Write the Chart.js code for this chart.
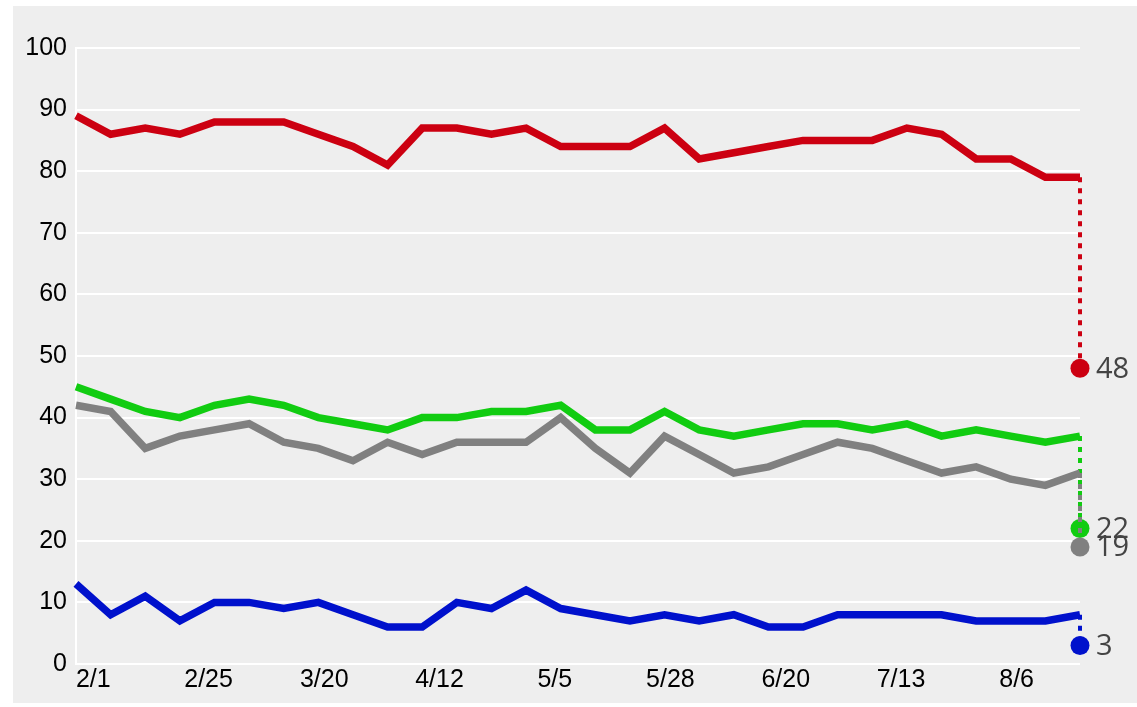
<!DOCTYPE html>
<html>
<head>
<meta charset="utf-8">
<script src="https://cdn.jsdelivr.net/npm/chart.js@4"></script>
<style>
  html, body { margin: 0; padding: 0; background: #fff; }
  #wrap { position: absolute; left: 13px; top: 6px; width: 1124px; height: 697px; background: #eeeeee; }
</style>
</head>
<body>
<div id="wrap"><canvas id="myChart"></canvas></div>
<script>
  // weekly readings, 2/1 onwards
  var red   = [89, 86, 87, 86, 88, 88, 88, 86, 84, 81, 87, 87, 86, 87, 84, 84, 84, 87, 82, 83, 84, 85, 85, 85, 87, 86, 82, 82, 79, 79];
  var green = [45, 43, 41, 40, 42, 43, 42, 40, 39, 38, 40, 40, 41, 41, 42, 38, 38, 41, 38, 37, 38, 39, 39, 38, 39, 37, 38, 37, 36, 37];
  var grey  = [42, 41, 35, 37, 38, 39, 36, 35, 33, 36, 34, 36, 36, 36, 40, 35, 31, 37, 34, 31, 32, 34, 36, 35, 33, 31, 32, 30, 29, 31];
  var blue  = [13, 8, 11, 7, 10, 10, 9, 10, 8, 6, 6, 10, 9, 12, 9, 8, 7, 8, 7, 8, 6, 6, 8, 8, 8, 8, 7, 7, 7, 8];

  // final values (end dots)
  var finals = { red: 48, green: 22, grey: 19, blue: 3 };

  var tickLabels = ['2/1', '2/25', '3/20', '4/12', '5/5', '5/28', '6/20', '7/13', '8/6'];
  var tickWeeks  = [0.5, 3.83, 7.17, 10.5, 13.83, 17.17, 20.5, 23.83, 27.17];

  var colors = { red: '#cc0011', green: '#11cc11', grey: '#808080', blue: '#0011cc' };

  function pts(arr) {
    return arr.map(function (v, i) { return { x: i, y: v }; });
  }

  function lineSet(key, arr) {
    return {
      data: pts(arr),
      borderColor: colors[key],
      borderWidth: 7.5,
      pointRadius: 0,
      tension: 0,
      borderJoinStyle: 'miter',
      fill: false,
      clip: false
    };
  }

  function dropSet(key, arr) {
    var last = arr.length - 1;
    return {
      data: [{ x: last, y: arr[last] }, { x: last, y: finals[key] }],
      borderColor: colors[key],
      borderWidth: 4,
      borderDash: [5, 6],
      pointRadius: [0, 9.5],
      pointBackgroundColor: colors[key],
      pointBorderWidth: 0,
      fill: false,
      clip: false,
      endLabel: String(finals[key])
    };
  }

  var endLabels = {
    id: 'endLabels',
    afterDatasetsDraw: function (chart) {
      var ctx = chart.ctx;
      ctx.save();
      ctx.font = '29px "Open Sans"';
      ctx.fillStyle = '#444';
      ctx.textBaseline = 'middle';
      ctx.textAlign = 'left';
      chart.data.datasets.forEach(function (ds, i) {
        if (!ds.endLabel) return;
        var p = chart.getDatasetMeta(i).data[1];
        ctx.fillText(ds.endLabel, p.x + 16, p.y + 1);
      });
      ctx.restore();
    }
  };

  var ctx = document.getElementById('myChart').getContext('2d');
  var myChart = new Chart(ctx, {
    type: 'line',
    data: {
      datasets: [
        lineSet('red', red),
        lineSet('grey', grey),
        lineSet('green', green),
        lineSet('blue', blue),
        dropSet('red', red),
        dropSet('grey', grey),
        dropSet('green', green),
        dropSet('blue', blue)
      ]
    },
    options: {
      responsive: true,
      maintainAspectRatio: false,
      animation: false,
      layout: { padding: { top: 42, right: 57, left: 0, bottom: 0 } },
      plugins: {
        legend: { display: false },
        tooltip: { enabled: false }
      },
      scales: {
        x: {
          type: 'linear',
          min: 0,
          max: 29,
          grid: { display: false, drawTicks: false },
          border: { display: false },
          afterBuildTicks: function (scale) {
            scale.ticks = tickWeeks.map(function (v) { return { value: v }; });
          },
          afterFit: function (scale) { scale.height = 39; },
          ticks: {
            autoSkip: false,
            maxRotation: 0,
            padding: 1,
            color: '#000',
            font: { family: '"Liberation Sans", Arial, sans-serif', size: 25 },
            callback: function (value, index) { return tickLabels[index]; }
          }
        },
        y: {
          min: 0,
          max: 100,
          grid: { color: '#ffffff', lineWidth: 2, drawTicks: false },
          border: { display: true, color: '#ffffff', width: 2 },
          afterFit: function (scale) { scale.width = 63; },
          ticks: {
            stepSize: 10,
            padding: 9,
            color: '#000',
            font: { family: '"Liberation Sans", Arial, sans-serif', size: 25 }
          }
        }
      }
    },
    plugins: [endLabels]
  });
</script>
</body>
</html>
